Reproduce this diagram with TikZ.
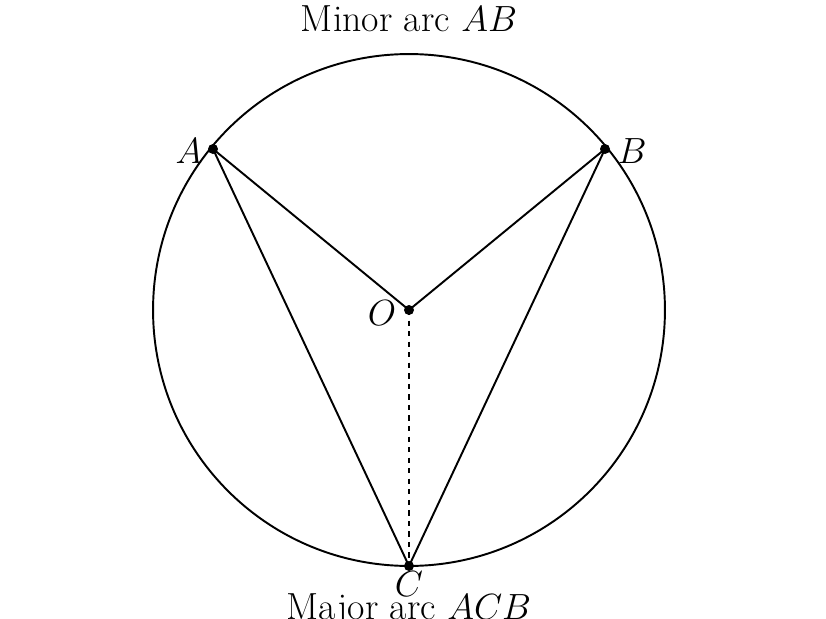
\documentclass[tikz,border=0pt]{standalone}
\begin{document}
\begin{tikzpicture}[x=0.02cm,y=-0.02cm,line width=1.1pt,
  dot/.style={circle,fill=black,inner sep=0pt,minimum size=0.2cm},
  lbl/.style={font=\fontsize{21.5}{25}\selectfont}]
\useasboundingbox (0,0) rectangle (826,619);
\draw (409,310) circle [radius=5.12cm];
\node[dot] (A) at (213,149) {};
\node[dot] (B) at (605,149) {};
\node[dot] (C) at (409,566) {};
\node[dot] (O) at (409,310) {};
\draw (A.center) -- (O.center) -- (B.center);
\draw (A.center) -- (C.center) -- (B.center);
\draw[dashed] (O.center) -- (C.center);
\node[lbl] (lA) at (189,151) {$A$};
\node[lbl] (lB) at (632,151) {$B$};
\node[lbl] (lO) at (382,313) {$O$};
\node[lbl] (lC) at (409,584) {$C$};
\node[lbl] (t1) at (409,19) {Minor arc $AB$};
\node[lbl] (t2) at (409,610) {Major arc $ACB$};
\end{tikzpicture}
\end{document}
